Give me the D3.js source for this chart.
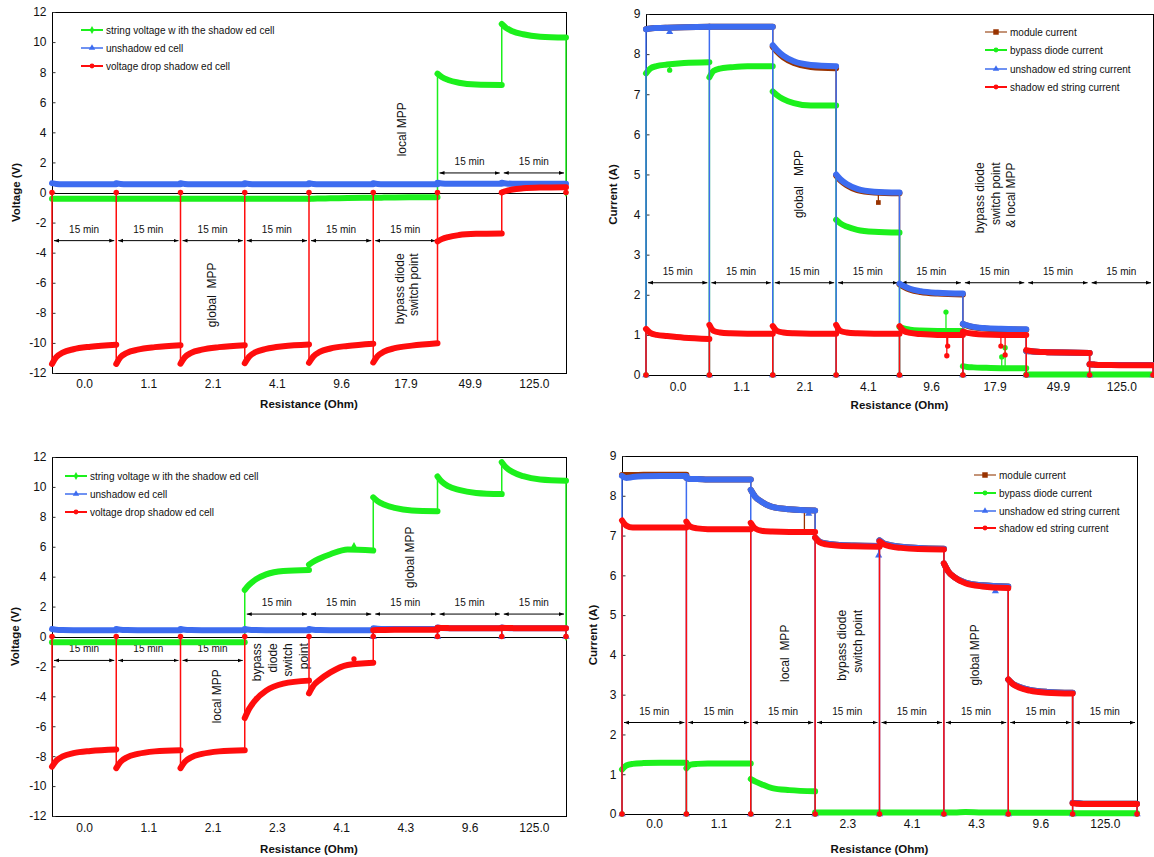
<!DOCTYPE html>
<html>
<head>
<meta charset="utf-8">
<script src="https://cdn.jsdelivr.net/npm/d3@7"></script>
<style>
  body { margin: 0; background: #fff; }
  svg { display: block; font-family: "Liberation Sans", Arial, sans-serif; }
  .note { white-space: pre; }
</style>
</head>
<body>
<svg id="chart" width="1154" height="857"></svg>
<script>
const stepMinutes = [0, 1, 2.5, 5, 9, 15];

const voltNames = ['string voltage w ith the shadow ed cell', 'unshadow ed cell', 'voltage drop shadow ed cell'];
const currNames = ['module current', 'bypass diode current', 'unshadow ed string current', 'shadow ed string current'];

// ---- top left: voltages ----
const tlLabels = ['0.0', '1.1', '2.1', '4.1', '9.6', '17.9', '49.9', '125.0'];
const tlString = [
  [-0.42, -0.42, -0.42, -0.42, -0.42, -0.42],
  [-0.42, -0.42, -0.42, -0.42, -0.42, -0.42],
  [-0.42, -0.42, -0.42, -0.42, -0.42, -0.42],
  [-0.42, -0.42, -0.42, -0.42, -0.41, -0.41],
  [-0.41, -0.41, -0.40, -0.39, -0.37, -0.35],
  [-0.35, -0.35, -0.34, -0.33, -0.32, -0.31],
  [7.9, 7.68, 7.48, 7.3, 7.18, 7.15],
  [11.2, 10.95, 10.72, 10.52, 10.36, 10.3]
];
const tlUnshaded = [
  [0.62, 0.57, 0.55, 0.55, 0.55, 0.55],
  [0.62, 0.57, 0.55, 0.55, 0.55, 0.55],
  [0.62, 0.57, 0.55, 0.55, 0.55, 0.55],
  [0.62, 0.57, 0.55, 0.55, 0.55, 0.55],
  [0.62, 0.57, 0.55, 0.55, 0.55, 0.55],
  [0.62, 0.57, 0.55, 0.55, 0.55, 0.55],
  [0.65, 0.6, 0.58, 0.58, 0.58, 0.58],
  [0.65, 0.6, 0.58, 0.58, 0.58, 0.58]
];
const tlShaded = [
  [-11.4, -10.95, -10.65, -10.42, -10.25, -10.12],
  [-11.4, -10.95, -10.66, -10.45, -10.28, -10.15],
  [-11.38, -10.95, -10.66, -10.45, -10.28, -10.15],
  [-11.35, -10.92, -10.62, -10.4, -10.22, -10.1],
  [-11.32, -10.9, -10.6, -10.37, -10.2, -10.05],
  [-11.3, -10.88, -10.58, -10.35, -10.18, -10.02],
  [-3.25, -3.1, -2.96, -2.83, -2.75, -2.72],
  [0.0, 0.1, 0.2, 0.28, 0.33, 0.35]
];
const tlStringDips = [null, null, null, null, null, null, null, null, 0];
const tlUnshadedDips = [null, null, null, null, null, null, null, null, null];
const tlShadedDips = [0, 0, 0, 0, 0, 0, 0, 0, 0];
const tlArrowY = [-3.2, -3.2, -3.2, -3.2, -3.2, -3.2, 1.3, 1.3];
const tlNotes = [
  [81.7, 4.2, 'middle', 'local MPP'],
  [37.4, -6.8, 'middle', 'global  MPP'],
  [81.2, -4.05, 'end', 'bypass diode'],
  [84.5, -4.05, 'end', 'switch point']
];

// ---- top right: currents ----
const trLabels = ['0.0', '1.1', '2.1', '4.1', '9.6', '17.9', '49.9', '125.0'];
const trModule = [
  [8.62, 8.64, 8.65, 8.66, 8.67, 8.68],
  [8.68, 8.68, 8.68, 8.68, 8.68, 8.68],
  [8.18, 8.06, 7.92, 7.78, 7.68, 7.65],
  [4.97, 4.85, 4.73, 4.61, 4.55, 4.53],
  [2.26, 2.2, 2.13, 2.07, 2.03, 2.01],
  [1.27, 1.23, 1.19, 1.16, 1.14, 1.13],
  [0.6, 0.59, 0.58, 0.57, 0.56, 0.55],
  [0.27, 0.26, 0.25, 0.25, 0.25, 0.25]
];
const trBypass = [
  [7.52, 7.64, 7.7, 7.74, 7.78, 7.8],
  [7.42, 7.58, 7.64, 7.67, 7.7, 7.7],
  [7.07, 6.98, 6.88, 6.78, 6.72, 6.72],
  [3.87, 3.78, 3.7, 3.62, 3.57, 3.55],
  [1.2, 1.16, 1.13, 1.11, 1.1, 1.1],
  [0.22, 0.2, 0.19, 0.18, 0.17, 0.17],
  [0.01, 0.01, 0.01, 0.01, 0.01, 0.01],
  [0.01, 0.01, 0.01, 0.01, 0.01, 0.01]
];
const trUnshaded = [
  [8.62, 8.64, 8.65, 8.66, 8.67, 8.68],
  [8.68, 8.68, 8.68, 8.68, 8.68, 8.68],
  [8.22, 8.1, 7.96, 7.82, 7.73, 7.7],
  [5.0, 4.88, 4.76, 4.64, 4.57, 4.55],
  [2.28, 2.22, 2.15, 2.09, 2.05, 2.03],
  [1.28, 1.24, 1.2, 1.17, 1.15, 1.14],
  [0.6, 0.59, 0.58, 0.57, 0.56, 0.55],
  [0.27, 0.26, 0.25, 0.25, 0.25, 0.25]
];
const trShaded = [
  [1.15, 1.05, 1.0, 0.97, 0.93, 0.9],
  [1.25, 1.1, 1.06, 1.04, 1.03, 1.03],
  [1.22, 1.1, 1.06, 1.04, 1.03, 1.03],
  [1.25, 1.1, 1.06, 1.04, 1.03, 1.03],
  [1.22, 1.1, 1.05, 1.02, 1.0, 1.0],
  [1.08, 1.05, 1.03, 1.01, 1.0, 1.0],
  [0.62, 0.6, 0.58, 0.57, 0.56, 0.55],
  [0.27, 0.26, 0.25, 0.25, 0.24, 0.24]
];
const trModuleDips = [null, null, null, null, null, null, null, null, null];
const trBypassDips = [0, 0, 0, 0, 0, 0, 0, 0, 0];
const trUnshadedDips = [0, 0, 0, 0, 0, 0, 0, 0, 0];
const trShadedDips = [0, 0, 0, 0, 0, 0, 0, 0, 0];
// [step, minute, from, to]
const trModuleSpikes = [[3, 10, 4.57, 4.3]];
const trBypassSpikes = [[0, 5.6, 7.74, 7.6], [4, 11, 1.1, 1.57], [5, 9.2, 0.18, 0.45], [5, 10, 0.18, 0.68]];
const trUnshadedSpikes = [[0, 5.6, 8.66, 8.55]];
const trShadedSpikes = [[4, 11.2, 1.0, 0.48], [4, 11.4, 1.0, 0.72], [5, 9, 1.0, 0.72], [5, 10, 1.0, 0.5]];
const trArrowY = [2.3, 2.3, 2.3, 2.3, 2.3, 2.3, 2.3, 2.3];
const trNotes = [
  [36.2, 4.76, 'middle', 'global   MPP'],
  [79.1, 5.3, 'end', 'bypass diode'],
  [82.7, 5.3, 'end', 'switch point'],
  [86.4, 5.3, 'end', '& local MPP']
];

// ---- bottom left: voltages ----
const blLabels = ['0.0', '1.1', '2.1', '2.3', '4.1', '4.3', '9.6', '125.0'];
const blString = [
  [-0.38, -0.38, -0.38, -0.38, -0.38, -0.38],
  [-0.38, -0.38, -0.38, -0.38, -0.38, -0.38],
  [-0.38, -0.38, -0.38, -0.38, -0.38, -0.38],
  [3.12, 3.45, 3.8, 4.15, 4.38, 4.45],
  [4.8, 5.0, 5.22, 5.5, 5.82, 5.75],
  [9.3, 9.05, 8.82, 8.6, 8.43, 8.38],
  [10.7, 10.35, 10.05, 9.8, 9.6, 9.52],
  [11.65, 11.3, 11.0, 10.72, 10.5, 10.42]
];
const blUnshaded = [
  [0.5, 0.45, 0.43, 0.42, 0.42, 0.42],
  [0.5, 0.45, 0.43, 0.42, 0.42, 0.42],
  [0.5, 0.45, 0.43, 0.42, 0.42, 0.42],
  [0.5, 0.45, 0.43, 0.42, 0.42, 0.42],
  [0.5, 0.45, 0.43, 0.42, 0.42, 0.42],
  [0.55, 0.52, 0.5, 0.5, 0.5, 0.5],
  [0.6, 0.56, 0.55, 0.55, 0.55, 0.55],
  [0.6, 0.56, 0.55, 0.55, 0.55, 0.55]
];
const blShaded = [
  [-8.7, -8.3, -8.02, -7.8, -7.65, -7.55],
  [-8.8, -8.38, -8.08, -7.85, -7.68, -7.6],
  [-8.8, -8.38, -8.08, -7.85, -7.68, -7.6],
  [-5.45, -4.85, -4.25, -3.62, -3.15, -2.95],
  [-3.8, -3.3, -2.9, -2.4, -1.9, -1.75],
  [0.42, 0.43, 0.44, 0.45, 0.45, 0.45],
  [0.58, 0.57, 0.56, 0.55, 0.55, 0.55],
  [0.58, 0.57, 0.56, 0.55, 0.55, 0.55]
];
const blStringDips = [null, null, null, null, null, null, null, null, 0];
const blUnshadedDips = [null, null, null, null, null, 0, 0, 0, 0];
const blShadedDips = [0, 0, 0, 0, 0, 0, 0, 0, 0];
const blStringSpikes = [[4, 10.5, 5.85, 6.02]];
const blShadedSpikes = [[4, 10.5, -1.85, -1.5]];
const blArrowY = [-1.6, -1.6, -1.6, 1.5, 1.5, 1.5, 1.5, 1.5];
const blNotes = [
  [38.5, -4.0, 'middle', 'local MPP'],
  [47.7, -0.45, 'end', 'bypass'],
  [51.5, -0.45, 'end', 'diode'],
  [55.1, -0.45, 'end', 'switch'],
  [58.8, -0.45, 'end', 'point'],
  [83.5, 5.3, 'middle', 'global MPP']
];

// ---- bottom right: currents ----
const brLabels = ['0.0', '1.1', '2.1', '2.3', '4.1', '4.3', '9.6', '125.0'];
const brModule = [
  [8.52, 8.52, 8.52, 8.53, 8.53, 8.53],
  [8.45, 8.42, 8.42, 8.41, 8.41, 8.41],
  [8.15, 7.98, 7.85, 7.72, 7.66, 7.63],
  [6.95, 6.85, 6.8, 6.77, 6.75, 6.74],
  [6.88, 6.8, 6.76, 6.72, 6.69, 6.67],
  [6.3, 6.1, 5.95, 5.82, 5.75, 5.72],
  [3.38, 3.28, 3.2, 3.12, 3.07, 3.05],
  [0.28, 0.27, 0.26, 0.26, 0.26, 0.26]
];
const brBypass = [
  [1.12, 1.22, 1.26, 1.28, 1.29, 1.29],
  [1.15, 1.24, 1.26, 1.27, 1.27, 1.27],
  [0.88, 0.82, 0.75, 0.65, 0.6, 0.57],
  [0.04, 0.04, 0.04, 0.04, 0.04, 0.04],
  [0.04, 0.04, 0.04, 0.04, 0.04, 0.04],
  [0.04, 0.04, 0.04, 0.05, 0.04, 0.04],
  [0.03, 0.03, 0.03, 0.03, 0.03, 0.03],
  [0.02, 0.02, 0.02, 0.02, 0.02, 0.02]
];
const brUnshaded = [
  [8.5, 8.45, 8.47, 8.49, 8.5, 8.5],
  [8.45, 8.42, 8.42, 8.41, 8.41, 8.41],
  [8.15, 7.98, 7.85, 7.72, 7.66, 7.63],
  [6.95, 6.85, 6.8, 6.77, 6.75, 6.74],
  [6.88, 6.8, 6.76, 6.72, 6.69, 6.67],
  [6.3, 6.1, 5.95, 5.82, 5.75, 5.72],
  [3.38, 3.28, 3.2, 3.12, 3.07, 3.05],
  [0.28, 0.27, 0.26, 0.26, 0.26, 0.26]
];
const brShaded = [
  [7.38, 7.25, 7.2, 7.2, 7.2, 7.2],
  [7.35, 7.22, 7.18, 7.16, 7.16, 7.16],
  [7.32, 7.18, 7.12, 7.1, 7.09, 7.09],
  [6.95, 6.83, 6.78, 6.75, 6.73, 6.72],
  [6.85, 6.78, 6.73, 6.69, 6.66, 6.65],
  [6.3, 6.1, 5.95, 5.8, 5.72, 5.68],
  [3.38, 3.27, 3.18, 3.1, 3.05, 3.03],
  [0.27, 0.26, 0.25, 0.25, 0.25, 0.25]
];
const brModuleDips = [null, null, null, null, null, null, null, null, null];
const brBypassDips = [0, 0, 0, 0, 0, 0, 0, 0, 0];
const brUnshadedDips = [0, 0, 0, 0, 0, 0, 0, 0, 0];
const brShadedDips = [0, 0, 0, 0, 0, 0, 0, 0, 0];
const brModuleSpikes = [[2, 12.5, 7.65, 7.1]];
const brUnshadedSpikes = [[3, 14.8, 6.74, 6.5], [5, 12, 5.73, 5.6], [2, 13.5, 7.65, 7.55]];
const brArrowY = [2.3, 2.3, 2.3, 2.3, 2.3, 2.3, 2.3, 2.3];
const brNotes = [
  [37.9, 4.04, 'middle', 'local  MPP'],
  [51.3, 5.13, 'end', 'bypass diode'],
  [54.9, 5.13, 'end', 'switch point'],
  [82.3, 4.0, 'middle', 'global MPP']
];

const GREEN = '#1cf01c', BLUE = '#3d6cf0', RED = '#ff0d0d', BROWN = '#993300';

const svg = d3.select('#chart');
svg.append('rect').attr('width', 1154).attr('height', 857).attr('fill', '#fff');

const defs = svg.append('defs');
defs.append('marker')
  .attr('id', 'head')
  .attr('viewBox', '0 0 8 8')
  .attr('refX', 8).attr('refY', 4)
  .attr('markerWidth', 5).attr('markerHeight', 5)
  .attr('orient', 'auto-start-reverse')
  .append('path').attr('d', 'M0,1L8,4L0,7Z').attr('fill', '#000');

function voltSeries(str, unsh, shad, dips, spikes) {
  return [
    {name: voltNames[0], color: GREEN, legendColor: GREEN, symbol: d3.symbolDiamond, segs: str, dips: dips[0], spikes: spikes[0]},
    {name: voltNames[1], color: BLUE, legendColor: '#6f92f2', symbol: d3.symbolTriangle, segs: unsh, dips: dips[1], spikes: spikes[1]},
    {name: voltNames[2], color: RED, legendColor: RED, symbol: d3.symbolCircle, segs: shad, dips: dips[2], spikes: spikes[2]}
  ];
}

function currSeries(mod, byp, unsh, shad, dips, spikes) {
  return [
    {name: currNames[0], color: BROWN, legendColor: '#c49478', symbol: d3.symbolSquare, segs: mod, dips: dips[0], spikes: spikes[0]},
    {name: currNames[1], color: GREEN, legendColor: GREEN, symbol: d3.symbolCircle, segs: byp, dips: dips[1], spikes: spikes[1]},
    {name: currNames[2], color: BLUE, legendColor: '#6f92f2', symbol: d3.symbolTriangle, segs: unsh, dips: dips[2], spikes: spikes[2]},
    {name: currNames[3], color: RED, legendColor: RED, symbol: d3.symbolCircle, segs: shad, dips: dips[3], spikes: spikes[3]}
  ];
}

function drawPanel(p) {
  const x = d3.scaleLinear().domain([0, 120]).range([p.left, p.right]);
  const y = d3.scaleLinear().domain(p.yDomain).range([p.bottom, p.top]);
  const g = svg.append('g');

  // frame and zero line
  g.append('rect')
    .attr('x', p.left + 0.5).attr('y', p.top + 0.5)
    .attr('width', p.right - p.left).attr('height', p.bottom - p.top)
    .attr('fill', 'none').attr('stroke', '#000').attr('stroke-width', 1);
  if (p.yDomain[0] < 0) {
    g.append('line')
      .attr('x1', p.left).attr('x2', p.right)
      .attr('y1', Math.round(y(0)) + 0.5).attr('y2', Math.round(y(0)) + 0.5)
      .attr('stroke', '#000');
  }

  const yTicks = d3.range(p.yDomain[0], p.yDomain[1] + 0.001, p.yStep);
  g.append('g')
    .attr('transform', `translate(${p.left + 0.5},0)`)
    .call(d3.axisLeft(y).tickValues(yTicks).tickSizeInner(-3).tickSizeOuter(0)
      .tickPadding(6).tickFormat(d => String(d)))
    .call(a => a.select('.domain').remove())
    .call(a => a.selectAll('line').attr('stroke', '#333'))
    .call(a => a.selectAll('text').attr('font-size', 12).attr('fill', '#111')
      .attr('font-family', '"Liberation Sans", Arial, sans-serif'));

  const centers = p.labels.map((_, i) => i * 15 + 7.5);
  g.append('g')
    .attr('transform', `translate(0,${p.bottom})`)
    .call(d3.axisBottom(x).tickValues(centers).tickSize(0)
      .tickFormat((d, i) => p.labels[i]))
    .call(a => a.select('.domain').remove())
    .call(a => a.selectAll('text').attr('font-size', 12).attr('fill', '#111')
      .attr('y', p.labelDy).attr('dy', '0.35em')
      .attr('font-family', '"Liberation Sans", Arial, sans-serif'));

  g.append('text')
    .attr('x', (p.left + p.right) / 2).attr('y', p.bottom + p.titleDy)
    .attr('dy', '0.35em').attr('text-anchor', 'middle')
    .attr('font-size', 11.5).attr('font-weight', 'bold').attr('fill', '#111')
    .text('Resistance (Ohm)');
  g.append('text')
    .attr('transform', `translate(${p.yTitleX},${(p.top + p.bottom) / 2}) rotate(-90)`)
    .attr('dy', '0.35em').attr('text-anchor', 'middle')
    .attr('font-size', 11.5).attr('font-weight', 'bold').attr('fill', '#111')
    .text(p.yTitle);

  // 15 min arrows
  p.arrowY.forEach((v, k) => {
    const x0 = x(k * 15) + 2, x1 = x(k * 15 + 15) - 2, yy = y(v);
    g.append('line')
      .attr('x1', x0).attr('x2', x1).attr('y1', yy).attr('y2', yy)
      .attr('stroke', '#000').attr('stroke-width', 1)
      .attr('marker-start', 'url(#head)').attr('marker-end', 'url(#head)');
    g.append('text')
      .attr('x', (x0 + x1) / 2).attr('y', yy - 8)
      .attr('text-anchor', 'middle').attr('font-size', 10).attr('fill', '#111')
      .text('15 min');
  });

  // notes
  p.notes.forEach(([t, v, anchor, txt]) => {
    g.append('text')
      .attr('class', 'note')
      .attr('transform', `translate(${x(t)},${y(v)}) rotate(-90)`)
      .attr('dy', '0.35em').attr('text-anchor', anchor)
      .attr('font-size', 12).attr('fill', '#111')
      .text(txt);
  });

  const thin = d3.line().x(d => x(d[0])).y(d => y(d[1]));
  const smooth = d3.line().curve(d3.curveMonotoneX).x(d => x(d[0])).y(d => y(d[1]));

  p.series.forEach(s => {
    const pts = [];
    s.segs.forEach((seg, k) => {
      if (s.dips[k] !== null) pts.push([k * 15, s.dips[k]]);
      seg.forEach((v, i) => pts.push([k * 15 + stepMinutes[i], v]));
    });
    if (s.dips[8] !== null) pts.push([120, s.dips[8]]);
    g.append('path').attr('d', thin(pts))
      .attr('fill', 'none').attr('stroke', s.color).attr('stroke-width', 1.5);

    (s.spikes || []).forEach(([k, t, from, to]) => {
      g.append('line')
        .attr('x1', x(k * 15 + t)).attr('x2', x(k * 15 + t))
        .attr('y1', y(from)).attr('y2', y(to))
        .attr('stroke', s.color).attr('stroke-width', 1.3);
      g.append('path')
        .attr('transform', `translate(${x(k * 15 + t)},${y(to)})`)
        .attr('d', d3.symbol().type(s.symbol).size(22)())
        .attr('fill', s.color);
    });

    s.segs.forEach((seg, k) => {
      g.append('path')
        .attr('d', smooth(seg.map((v, i) => [k * 15 + stepMinutes[i], v])))
        .attr('fill', 'none').attr('stroke', s.color)
        .attr('stroke-width', 6).attr('stroke-linecap', 'round');
    });

    s.dips.forEach((v, k) => {
      if (v === null) return;
      g.append('path')
        .attr('transform', `translate(${x(k * 15)},${y(v)})`)
        .attr('d', d3.symbol().type(s.symbol).size(24)())
        .attr('fill', s.color);
    });
  });

  // legend
  p.series.forEach((s, i) => {
    const ly = p.legend.ys[i];
    g.append('line')
      .attr('x1', p.legend.lx).attr('x2', p.legend.lx + 22)
      .attr('y1', ly).attr('y2', ly)
      .attr('stroke', s.legendColor).attr('stroke-width', 2);
    g.append('path')
      .attr('transform', `translate(${p.legend.lx + 11},${ly})`)
      .attr('d', d3.symbol().type(s.symbol).size(s.symbol === d3.symbolSquare ? 30 : 18)())
      .attr('fill', s.color);
    g.append('text')
      .attr('x', p.legend.tx).attr('y', ly).attr('dy', '0.35em')
      .attr('font-size', 10).attr('fill', '#111')
      .text(s.name);
  });
}

drawPanel({
  left: 52, right: 566, top: 12, bottom: 373,
  yDomain: [-12, 12], yStep: 2, yTitle: 'Voltage (V)', yTitleX: 16,
  labelDy: 11, titleDy: 31, labels: tlLabels,
  arrowY: tlArrowY, notes: tlNotes,
  legend: {lx: 81, tx: 106, ys: [30, 48, 66]},
  series: voltSeries(tlString, tlUnshaded, tlShaded,
    [tlStringDips, tlUnshadedDips, tlShadedDips], [[], [], []])
});

drawPanel({
  left: 646, right: 1153, top: 14, bottom: 375,
  yDomain: [0, 9], yStep: 1, yTitle: 'Current (A)', yTitleX: 613,
  labelDy: 12, titleDy: 30, labels: trLabels,
  arrowY: trArrowY, notes: trNotes,
  legend: {lx: 985, tx: 1010, ys: [32, 50, 69, 87]},
  series: currSeries(trModule, trBypass, trUnshaded, trShaded,
    [trModuleDips, trBypassDips, trUnshadedDips, trShadedDips],
    [trModuleSpikes, trBypassSpikes, trUnshadedSpikes, trShadedSpikes])
});

drawPanel({
  left: 52, right: 566, top: 457, bottom: 816,
  yDomain: [-12, 12], yStep: 2, yTitle: 'Voltage (V)', yTitleX: 15,
  labelDy: 12, titleDy: 33, labels: blLabels,
  arrowY: blArrowY, notes: blNotes,
  legend: {lx: 65, tx: 90, ys: [476, 494, 512]},
  series: voltSeries(blString, blUnshaded, blShaded,
    [blStringDips, blUnshadedDips, blShadedDips], [blStringSpikes, [], blShadedSpikes])
});

drawPanel({
  left: 622, right: 1137, top: 456, bottom: 814,
  yDomain: [0, 9], yStep: 1, yTitle: 'Current (A)', yTitleX: 593,
  labelDy: 10, titleDy: 35, labels: brLabels,
  arrowY: brArrowY, notes: brNotes,
  legend: {lx: 974, tx: 999, ys: [475, 493, 511, 528]},
  series: currSeries(brModule, brBypass, brUnshaded, brShaded,
    [brModuleDips, brBypassDips, brUnshadedDips, brShadedDips],
    [brModuleSpikes, [], brUnshadedSpikes, []])
});
</script>
</body>
</html>
